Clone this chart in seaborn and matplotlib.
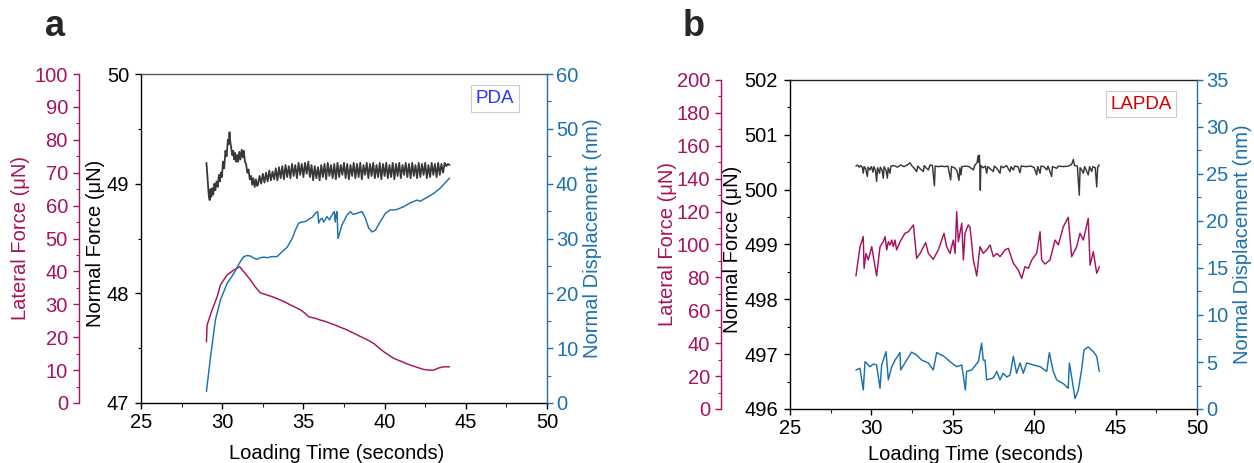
import matplotlib
matplotlib.use("Agg")
import matplotlib.pyplot as plt
from matplotlib.ticker import MultipleLocator
import seaborn as sns

# ---------------- panel a (PDA) ----------------
a_time_normal = [29.03, 29.10, 29.18, 29.23, 29.28, 29.33, 29.38, 29.45, 29.52, 29.58, 29.65, 29.72,
                 29.80, 29.86, 29.92, 29.98, 30.05, 30.12, 30.20, 30.27, 30.35, 30.40, 30.45, 30.50,
                 30.56, 30.62, 30.68, 30.74, 30.80, 30.86, 30.92, 30.98, 31.05, 31.12, 31.20, 31.27,
                 31.33, 31.40, 31.47, 31.55, 31.62, 31.70, 31.78, 31.85, 31.92, 32.00, 32.08, 32.15,
                 32.2, 32.3, 32.4, 32.5, 32.6, 32.7, 32.8, 32.9, 33.0, 33.1,
                 33.2, 33.3, 33.4, 33.5, 33.6, 33.7, 33.8, 33.9, 34.0, 34.1,
                 34.2, 34.3, 34.4, 34.5, 34.6, 34.7, 34.8, 34.9, 35.0, 35.1,
                 35.2, 35.3, 35.4, 35.5, 35.6, 35.7, 35.8, 35.9, 36.0, 36.1,
                 36.2, 36.3, 36.4, 36.5, 36.6, 36.7, 36.8, 36.9, 37.0, 37.1,
                 37.2, 37.3, 37.4, 37.5, 37.6, 37.7, 37.8, 37.9, 38.0, 38.1,
                 38.2, 38.3, 38.4, 38.5, 38.6, 38.7, 38.8, 38.9, 39.0, 39.1,
                 39.2, 39.3, 39.4, 39.5, 39.6, 39.7, 39.8, 39.9, 40.0, 40.1,
                 40.2, 40.3, 40.4, 40.5, 40.6, 40.7, 40.8, 40.9, 41.0, 41.1,
                 41.2, 41.3, 41.4, 41.5, 41.6, 41.7, 41.8, 41.9, 42.0, 42.1,
                 42.2, 42.3, 42.4, 42.5, 42.6, 42.7, 42.8, 42.9, 43.0, 43.1,
                 43.2, 43.3, 43.4, 43.5, 43.6, 43.7, 43.8, 43.9, 44.0]
a_normal = [49.19, 49.05, 48.88, 48.85, 48.95, 48.88, 48.96, 48.90, 49.00, 48.94, 49.02, 48.97,
            49.08, 49.02, 49.10, 49.06, 49.20, 49.14, 49.30, 49.25, 49.40, 49.36, 49.47, 49.38,
            49.32, 49.26, 49.30, 49.22, 49.28, 49.20, 49.26, 49.20, 49.29, 49.22, 49.31, 49.24,
            49.30, 49.20, 49.18, 49.10, 49.13, 49.04, 49.07, 48.99, 49.05, 48.97, 49.04, 48.98,
            48.99, 49.07, 49.00, 49.09, 49.01, 49.10, 49.02, 49.12, 49.03, 49.11,
            49.04, 49.14, 49.03, 49.15, 49.05, 49.16, 49.04, 49.17, 49.06, 49.16,
            49.05, 49.18, 49.07, 49.17, 49.05, 49.19, 49.08, 49.18, 49.06, 49.19,
            49.09, 49.20, 49.06, 49.17, 49.03, 49.16, 49.05, 49.15, 49.03, 49.17,
            49.06, 49.18, 49.04, 49.19, 49.07, 49.17, 49.05, 49.18, 49.04, 49.19,
            49.06, 49.17, 49.08, 49.19, 49.05, 49.18, 49.04, 49.17, 49.07, 49.19,
            49.05, 49.18, 49.06, 49.19, 49.04, 49.17, 49.08, 49.19, 49.05, 49.18,
            49.07, 49.19, 49.05, 49.17, 49.06, 49.19, 49.04, 49.18, 49.07, 49.19,
            49.05, 49.17, 49.06, 49.19, 49.04, 49.18, 49.07, 49.19, 49.05, 49.17,
            49.08, 49.19, 49.06, 49.18, 49.05, 49.19, 49.07, 49.17, 49.05, 49.19,
            49.06, 49.18, 49.08, 49.19, 49.05, 49.17, 49.06, 49.19, 49.08, 49.18,
            49.06, 49.19, 49.08, 49.18, 49.10, 49.19, 49.16, 49.18, 49.17]

a_time_lateral = [29.03, 29.07, 29.38, 29.69, 29.89, 30.30, 30.71, 31.08, 31.33, 31.74, 32.05, 32.35,
                  32.65, 32.97, 33.30, 33.58, 33.90, 34.20, 34.50, 34.82, 35.10, 35.33, 35.70, 36.05,
                  36.35, 36.66, 37.00, 37.28, 37.60, 37.89, 38.20, 38.51, 38.90, 39.33, 39.64, 39.94,
                  40.25, 40.55, 40.95, 41.38, 41.90, 42.40, 42.70, 43.02, 43.30, 43.63, 44.00]
a_lateral = [18.6, 23.7, 28.3, 32.3, 35.9, 38.9, 40.4, 41.4, 39.9, 37.4, 35.2, 33.5,
             33.0, 32.5, 31.9, 31.3, 30.6, 29.8, 29.1, 28.3, 27.3, 26.2, 25.8, 25.2,
             24.8, 24.2, 23.6, 23.0, 22.4, 21.7, 21.0, 20.2, 19.3, 18.1, 16.8, 15.6,
             14.6, 13.6, 12.8, 11.9, 11.0, 10.2, 10.0, 10.0, 10.6, 11.0, 11.0]

a_time_disp = [29.03, 29.28, 29.58, 29.89, 30.30, 30.71, 31.12, 31.33, 31.55, 31.74, 31.95, 32.15,
               32.35, 32.56, 32.80, 33.05, 33.38, 33.69, 34.00, 34.31, 34.50, 34.71, 34.90, 35.12,
               35.33, 35.55, 35.74, 35.88, 35.94, 36.05, 36.15, 36.25, 36.45, 36.60, 36.82, 36.90,
               36.96, 37.02, 37.07, 37.13, 37.38, 37.69, 37.89, 38.05, 38.20, 38.40, 38.61, 38.82,
               39.02, 39.23, 39.43, 39.74, 40.05, 40.35, 40.55, 40.77, 41.17, 41.58, 42.00, 42.20,
               42.61, 43.02, 43.43, 43.74, 44.00]
a_disp = [2.1, 8.4, 15.1, 18.8, 21.8, 23.6, 25.8, 26.7, 26.9, 26.8, 26.4, 26.2,
          26.5, 26.6, 26.5, 26.7, 26.7, 27.6, 28.4, 30.0, 31.5, 32.8, 33.0, 33.1,
          33.5, 33.9, 34.6, 34.9, 32.8, 33.5, 33.7, 33.0, 34.0, 33.4, 34.6, 34.9,
          33.0, 34.5, 34.9, 30.0, 32.5, 34.3, 34.9, 34.4, 34.5, 34.7, 34.9, 33.7,
          31.9, 31.2, 31.5, 33.1, 34.6, 35.2, 35.2, 35.3, 35.8, 36.5, 37.0, 36.8,
          37.5, 38.2, 39.2, 40.2, 41.0]

# ---------------- panel b (LAPDA) ----------------
b_time_normal = [29.05, 29.15, 29.25, 29.35, 29.45, 29.50, 29.55, 29.65, 29.75, 29.80, 29.90, 30.00,
                 30.10, 30.15, 30.25, 30.32, 30.38, 30.50, 30.55, 30.65, 30.73, 30.78, 30.90, 30.98,
                 31.03, 31.14, 31.20, 31.40, 31.60, 31.80, 32.00, 32.20, 32.37, 32.50, 32.60, 32.78,
                 32.85, 33.00, 33.19, 33.25, 33.35, 33.50, 33.60, 33.75, 33.87, 33.92, 34.10, 34.30,
                 34.50, 34.70, 34.87, 34.92, 35.10, 35.25, 35.38, 35.44, 35.50, 35.56, 35.80, 36.00,
                 36.26, 36.35, 36.50, 36.55, 36.60, 36.63, 36.66, 36.69, 36.72, 36.85, 37.00, 37.08,
                 37.15, 37.30, 37.49, 37.55, 37.70, 37.90, 37.96, 38.10, 38.30, 38.51, 38.58, 38.72,
                 38.80, 39.00, 39.13, 39.20, 39.50, 39.80, 40.00, 40.15, 40.22, 40.36, 40.42, 40.60,
                 40.77, 40.85, 41.07, 41.12, 41.38, 41.50, 41.80, 42.10, 42.30, 42.40, 42.48, 42.65,
                 42.77, 42.82, 42.92, 43.02, 43.10, 43.20, 43.32, 43.40, 43.53, 43.60, 43.75, 43.84,
                 43.90, 44.00]
b_normal = [500.43, 500.45, 500.41, 500.44, 500.40, 500.30, 500.42, 500.38, 500.24, 500.41, 500.36, 500.42,
            500.32, 500.42, 500.35, 500.15, 500.40, 500.30, 500.41, 500.36, 500.21, 500.42, 500.35, 500.21,
            500.40, 500.30, 500.43, 500.44, 500.41, 500.45, 500.42, 500.45, 500.49, 500.43, 500.40, 500.33,
            500.43, 500.38, 500.33, 500.44, 500.40, 500.36, 500.45, 500.44, 500.07, 500.43, 500.42, 500.43,
            500.42, 500.43, 500.18, 500.42, 500.40, 500.35, 500.17, 500.40, 500.27, 500.42, 500.43, 500.42,
            500.36, 500.44, 500.50, 500.62, 500.50, 500.63, 500.45, 499.99, 500.44, 500.40, 500.43, 500.30,
            500.42, 500.38, 500.33, 500.43, 500.39, 500.30, 500.43, 500.40, 500.44, 500.33, 500.42, 500.36,
            500.43, 500.42, 500.31, 500.43, 500.42, 500.43, 500.40, 500.27, 500.42, 500.30, 500.43, 500.42,
            500.36, 500.43, 500.24, 500.42, 500.39, 500.43, 500.42, 500.43, 500.46, 500.55, 500.44, 500.43,
            499.90, 500.40, 500.36, 500.30, 500.42, 500.35, 500.27, 500.42, 500.33, 500.42, 500.40, 500.05,
            500.42, 500.45]

b_time_lateral = [29.05, 29.30, 29.50, 29.55, 29.67, 29.81, 30.02, 30.32, 30.53, 30.73, 30.84, 30.94,
                  31.04, 31.14, 31.25, 31.35, 31.45, 31.55, 31.76, 32.06, 32.27, 32.58, 32.78, 32.99,
                  33.33, 33.50, 33.80, 34.11, 34.32, 34.46, 34.62, 34.83, 35.03, 35.14, 35.24, 35.34,
                  35.55, 35.65, 35.75, 35.95, 36.06, 36.16, 36.26, 36.47, 36.67, 36.87, 37.08, 37.29,
                  37.49, 37.70, 37.90, 38.21, 38.41, 38.72, 39.02, 39.23, 39.43, 39.64, 39.85, 40.15,
                  40.36, 40.46, 40.66, 40.97, 41.28, 41.48, 41.79, 42.09, 42.30, 42.61, 42.81, 43.02,
                  43.32, 43.43, 43.63, 43.84, 44.00]
b_lateral = [80.9, 98.7, 104.8, 85.5, 94.6, 90.6, 98.7, 80.9, 98.7, 101.7, 104.8, 96.7,
             101.7, 99.7, 102.7, 98.7, 102.7, 96.7, 101.7, 106.8, 107.8, 111.9, 91.6, 94.6,
             101.1, 94.6, 91.0, 96.7, 102.7, 106.8, 98.7, 94.6, 102.7, 94.6, 120.0, 101.7,
             112.9, 90.6, 106.8, 111.9, 110.5, 100.7, 90.6, 80.9, 98.7, 94.6, 96.7, 99.7,
             92.6, 94.6, 92.6, 96.7, 97.7, 88.6, 84.5, 79.4, 86.5, 85.5, 90.6, 94.6,
             107.8, 90.6, 88.1, 90.6, 102.7, 99.7, 110.8, 116.5, 92.6, 98.7, 106.8, 102.7,
             115.9, 87.5, 95.6, 82.5, 86.5]

b_time_disp = [29.05, 29.30, 29.50, 29.61, 29.75, 29.91, 30.12, 30.32, 30.53, 30.63, 30.90, 31.04,
               31.25, 31.45, 31.76, 31.80, 32.06, 32.47, 32.78, 33.09, 33.50, 33.80, 34.01, 34.42,
               34.83, 35.24, 35.55, 35.77, 35.85, 36.16, 36.57, 36.77, 36.87, 36.98, 37.08, 37.49,
               37.70, 37.90, 38.10, 38.31, 38.51, 38.72, 38.92, 39.13, 39.33, 39.54, 39.95, 40.36,
               40.77, 40.93, 41.17, 41.38, 41.79, 42.09, 42.16, 42.30, 42.51, 42.71, 42.91, 43.06,
               43.32, 43.63, 43.84, 44.00]
b_disp = [4.15, 4.33, 2.02, 5.04, 4.79, 4.5, 4.79, 4.68, 2.2, 4.68, 6.1, 3.1,
          4.5, 5.2, 6.0, 4.15, 4.9, 6.05, 5.74, 5.2, 4.9, 4.15, 6.0, 5.64,
          5.04, 4.5, 4.68, 2.02, 4.0, 4.15, 5.04, 7.0, 5.2, 5.2, 3.1, 3.3,
          4.0, 3.1, 3.8, 3.4, 3.6, 5.6, 3.8, 4.9, 3.8, 4.9, 4.68, 4.5,
          4.0, 6.0, 4.0, 3.1, 2.7, 2.2, 4.9, 3.4, 1.1, 2.02, 4.15, 6.3,
          6.6, 6.1, 5.6, 4.0]

# ---------------- style ----------------
sns.set_style("ticks")
plt.rcParams['font.family'] = ['Liberation Sans', 'DejaVu Sans']

MAG = "#a6135e"
BLU = "#1b72ae"
BLK = "#383838"
FS = 14.5
LW = 1.05
PX = 0.72  # points per pixel at 100 dpi

fig = plt.figure(figsize=(12.54, 4.63), dpi=100)


def style_axis(ax, color, pad_px):
    ax.tick_params(axis='y', which='major', direction='out', length=6 * PX, width=1.0,
                   colors=color, labelsize=FS, pad=pad_px * PX)
    ax.tick_params(axis='y', which='minor', direction='out', length=3.5 * PX, width=0.8, colors=color)


def panel(rect, tn, n, tl, l, td, d, nlim, nmaj, nmin, llim, lmaj, lmin,
          dlim, dmaj, dmin, lat_off_px, lab_x, box_text, box_color, box_xy, xlab_xy, top_color,
          black_lw):
    ax = fig.add_axes(rect)
    axl = ax.twinx()
    axd = ax.twinx()

    sns.lineplot(x=tn, y=n, ax=ax, color=BLK, lw=black_lw, estimator=None, sort=False, legend=False)
    sns.lineplot(x=tl, y=l, ax=axl, color=MAG, lw=LW, estimator=None, sort=False, legend=False)
    sns.lineplot(x=td, y=d, ax=axd, color=BLU, lw=LW, estimator=None, sort=False, legend=False)

    # x axis
    ax.set_xlim(25, 50)
    ax.xaxis.set_major_locator(MultipleLocator(5))
    ax.xaxis.set_minor_locator(MultipleLocator(2.5))
    ax.tick_params(axis='x', which='major', direction='out', length=6 * PX, width=1.0,
                   colors='black', labelsize=FS, pad=4 * PX)
    ax.tick_params(axis='x', which='minor', direction='out', length=3.5 * PX, width=0.8)
    ax.set_xlabel("Loading Time (seconds)", fontsize=FS, color='black')
    ax.xaxis.set_label_coords(*xlab_xy)
    ax.xaxis.label.set_va('center')

    # normal force axis (base)
    ax.set_ylim(*nlim)
    ax.yaxis.set_major_locator(MultipleLocator(nmaj))
    ax.yaxis.set_minor_locator(MultipleLocator(nmin))
    style_axis(ax, 'black', 6)
    ax.set_ylabel("Normal Force (μN)", fontsize=FS, color='black')
    ax.yaxis.set_label_coords(lab_x[1], 0.485)
    ax.yaxis.label.set_va('center')
    for s in ['left', 'bottom', 'top']:
        ax.spines[s].set_visible(True)
        ax.spines[s].set_linewidth(1.0)
        ax.spines[s].set_color('black')
    ax.spines['top'].set_color(top_color)
    ax.spines['right'].set_visible(False)

    # lateral force axis (offset on left)
    axl.set_ylim(*llim)
    axl.yaxis.set_major_locator(MultipleLocator(lmaj))
    axl.yaxis.set_minor_locator(MultipleLocator(lmin))
    axl.yaxis.tick_left()
    axl.yaxis.set_label_position('left')
    axl.spines['left'].set_position(('outward', lat_off_px * PX))
    axl.spines['left'].set_visible(True)
    axl.spines['left'].set_color(MAG)
    axl.spines['left'].set_linewidth(1.0)
    for s in ['right', 'top', 'bottom']:
        axl.spines[s].set_visible(False)
    style_axis(axl, MAG, 5)
    axl.set_ylabel("Lateral Force (μN)", fontsize=FS, color=MAG)
    axl.yaxis.set_label_coords(lab_x[0], 0.5)
    axl.yaxis.label.set_va('center')

    # normal displacement axis (right)
    axd.set_ylim(*dlim)
    axd.yaxis.set_major_locator(MultipleLocator(dmaj))
    axd.yaxis.set_minor_locator(MultipleLocator(dmin))
    for s in ['left', 'top', 'bottom']:
        axd.spines[s].set_visible(False)
    axd.spines['right'].set_visible(True)
    axd.spines['right'].set_color(BLU)
    axd.spines['right'].set_linewidth(1.0)
    style_axis(axd, BLU, 3)
    axd.set_ylabel("Normal Displacement (nm)", fontsize=FS, color=BLU)
    axd.yaxis.set_label_coords(lab_x[2], 0.5)
    axd.yaxis.label.set_va('center')

    ax.set_xlim(25, 50)
    axd.text(box_xy[0], box_xy[1], box_text, transform=ax.transAxes, ha='center', va='center',
             fontsize=13.5, color=box_color,
             bbox=dict(boxstyle='square,pad=0.25', fc='white', ec='#cccccc', lw=0.8))
    return ax


panel([141 / 1254, 60 / 463, 406 / 1254, 329 / 463],
      a_time_normal, a_normal, a_time_lateral, a_lateral, a_time_disp, a_disp,
      (47, 50), 1, 0.5, (0, 100), 10, 5, (0, 60), 10, 5, 62,
      (-0.2956, -0.1133, 1.113), "PDA", "#2b35f0", (0.872, 0.9255), (0.483, -0.152), '#555555',
      1.3)

panel([790 / 1254, 54 / 463, 407 / 1254, 329 / 463],
      b_time_normal, b_normal, b_time_lateral, b_lateral, b_time_disp, b_disp,
      (496, 502), 1, 0.5, (0, 200), 20, 10, (0, 35), 5, 2.5, 69,
      (-0.2998, -0.1425, 1.1106), "LAPDA", "#d00000", (0.8624, 0.927), (0.457, -0.137), '#222222',
      LW)

fig.text(55 / 1254, 1 - 27 / 463, "a", fontsize=26, fontweight='bold', ha='center', va='center')
fig.text(694 / 1254, 1 - 27 / 463, "b", fontsize=26, fontweight='bold', ha='center', va='center')

fig.savefig("out.png", dpi=100)
